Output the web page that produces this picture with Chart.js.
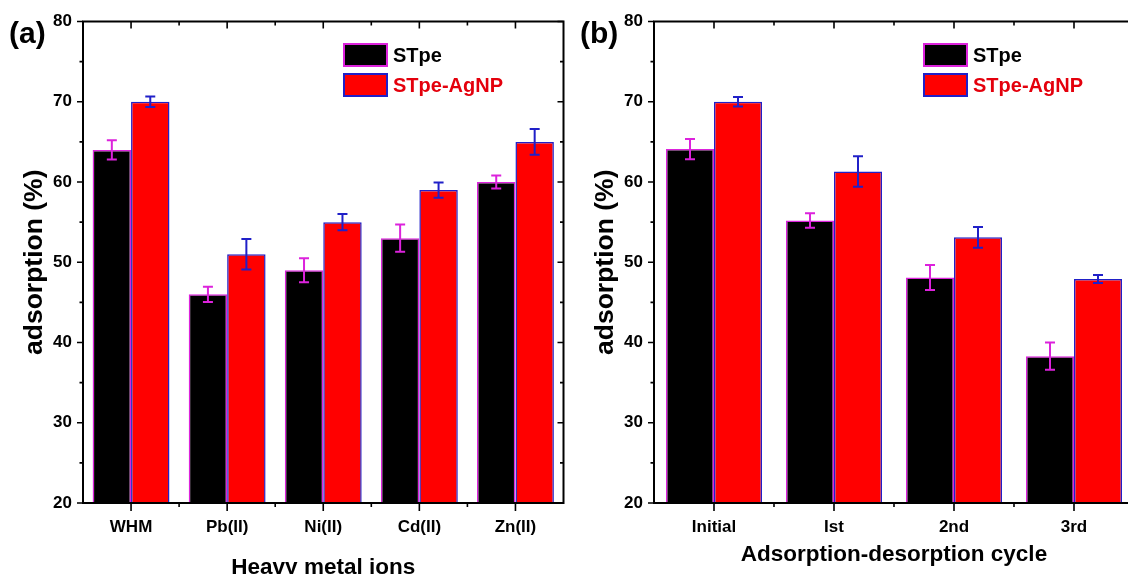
<!DOCTYPE html>
<html>
<head>
<meta charset="utf-8">
<script src="https://cdn.jsdelivr.net/npm/chart.js@4.4.1/dist/chart.umd.min.js"></script>
<style>
  html, body { margin: 0; padding: 0; background: #fff; }
  body { width: 1128px; height: 574px; overflow: hidden; position: relative; }
  .panel { position: absolute; top: 0; height: 574px; }
  #panelA { left: 0; width: 566px; }
  #panelB { left: 564px; width: 580px; }
</style>
</head>
<body>
<div class="panel" id="panelA"><canvas id="chartA" width="566" height="574"></canvas></div>
<div class="panel" id="panelB"><canvas id="chartB" width="580" height="574"></canvas></div>
<script>
// (a) heavy metal ions
const metalIons = ['WHM', 'Pb(II)', 'Ni(II)', 'Cd(II)', 'Zn(II)'];
const stpeMetal = [64, 46, 49, 53, 60];
const stpeMetalErr = [1.2, 0.95, 1.5, 1.7, 0.8];
const agnpMetal = [70, 51, 55, 59, 65];
const agnpMetalErr = [0.65, 1.9, 1.0, 0.95, 1.6];

// (b) adsorption-desorption cycles
const cycles = ['Initial', 'Ist', '2nd', '3rd'];
const stpeCycle = [64.1, 55.2, 48.1, 38.3];
const stpeCycleErr = [1.25, 0.9, 1.55, 1.7];
const agnpCycle = [70, 61.3, 53.1, 47.9];
const agnpCycleErr = [0.6, 1.9, 1.3, 0.5];

const yTicks = [20, 30, 40, 50, 60, 70, 80];
const seriesNames = ['STpe', 'STpe-AgNP'];

const FONT = '"Liberation Sans", Arial, sans-serif';
const MAGENTA = '#dc22dc';
const BLUE = '#2020c8';
const RED = '#ff0000';
const RED_TEXT = '#e4000c';

const errorBarPlugin = {
    id: 'errorBars',
    afterDatasetsDraw(chart) {
        const ctx = chart.ctx;
        const y = chart.scales.y;
        chart.data.datasets.forEach((ds, di) => {
            const meta = chart.getDatasetMeta(di);
            ctx.save();
            ctx.strokeStyle = ds.errorColor;
            ctx.lineWidth = 2;
            meta.data.forEach((bar, i) => {
                const top = y.getPixelForValue(ds.data[i] + ds.errors[i]);
                const bot = y.getPixelForValue(ds.data[i] - ds.errors[i]);
                ctx.beginPath();
                ctx.moveTo(bar.x, top); ctx.lineTo(bar.x, bot);
                ctx.moveTo(bar.x - 5, top); ctx.lineTo(bar.x + 5, top);
                ctx.moveTo(bar.x - 5, bot); ctx.lineTo(bar.x + 5, bot);
                ctx.stroke();
            });
            ctx.restore();
        });
    }
};

const framePlugin = {
    id: 'frame',
    afterDraw(chart) {
        const ctx = chart.ctx;
        const a = chart.chartArea;
        const x = chart.scales.x;
        const y = chart.scales.y;
        ctx.save();
        ctx.strokeStyle = '#000';
        ctx.lineWidth = 2;
        ctx.strokeRect(a.left, a.top, a.right - a.left, a.bottom - a.top);

        ctx.lineWidth = 1.6;
        ctx.beginPath();
        for (let v = y.min; v <= y.max; v += 5) {
            const py = y.getPixelForValue(v);
            const len = v % 10 === 0 ? 6 : 3.5;
            ctx.moveTo(a.left - len, py); ctx.lineTo(a.left, py);
            ctx.moveTo(a.right, py); ctx.lineTo(a.right - len, py);
        }
        const n = chart.data.labels.length;
        for (let i = 0; i < n; i++) {
            const px = x.getPixelForValue(i);
            ctx.moveTo(px, a.bottom); ctx.lineTo(px, a.bottom + 8);
            ctx.moveTo(px, a.top); ctx.lineTo(px, a.top + 7);
            if (i < n - 1) {
                const mx = (px + x.getPixelForValue(i + 1)) / 2;
                ctx.moveTo(mx, a.bottom); ctx.lineTo(mx, a.bottom + 4);
                ctx.moveTo(mx, a.top); ctx.lineTo(mx, a.top + 4);
            }
        }
        ctx.stroke();
        ctx.restore();
    }
};

const boxLegendPlugin = {
    id: 'boxLegend',
    afterDraw(chart, args, opts) {
        const ctx = chart.ctx;
        ctx.save();
        ctx.font = 'bold 20px ' + FONT;
        ctx.textBaseline = 'middle';
        chart.data.datasets.forEach((ds, i) => {
            const bx = opts.x;
            const by = opts.y + i * 30;
            ctx.fillStyle = ds.backgroundColor;
            ctx.fillRect(bx, by, 43, 22);
            ctx.strokeStyle = ds.borderColor;
            ctx.lineWidth = 2;
            ctx.strokeRect(bx, by, 43, 22);
            ctx.fillStyle = ds.legendTextColor;
            ctx.fillText(ds.label, bx + 49, by + 12);
        });
        ctx.restore();
    }
};

const panelLabelPlugin = {
    id: 'panelLabel',
    afterDraw(chart, args, opts) {
        const ctx = chart.ctx;
        ctx.save();
        ctx.font = 'bold 30px ' + FONT;
        ctx.fillStyle = '#000';
        ctx.textBaseline = 'middle';
        ctx.fillText(opts.text, opts.x, opts.y);
        ctx.restore();
    }
};

function makeChart(canvasId, labels, stpe, stpeErr, agnp, agnpErr, cfg) {
    const ctx = document.getElementById(canvasId).getContext('2d');
    return new Chart(ctx, {
        type: 'bar',
        data: {
            labels: labels,
            datasets: [{
                label: seriesNames[0],
                data: stpe,
                errors: stpeErr,
                backgroundColor: '#000000',
                borderColor: MAGENTA,
                errorColor: MAGENTA,
                legendTextColor: '#000000',
                borderWidth: 1.5
            }, {
                label: seriesNames[1],
                data: agnp,
                errors: agnpErr,
                backgroundColor: RED,
                borderColor: BLUE,
                errorColor: BLUE,
                legendTextColor: RED_TEXT,
                borderWidth: 1.5
            }]
        },
        options: {
            responsive: false,
            animation: false,
            devicePixelRatio: 1,
            layout: { padding: { top: 21.5, right: cfg.padRight, bottom: 0, left: 0 } },
            datasets: { bar: { categoryPercentage: 0.8, barPercentage: 1.0, borderSkipped: 'start' } },
            plugins: {
                legend: { display: false },
                tooltip: { enabled: false },
                boxLegend: { x: cfg.legendX, y: 44 },
                panelLabel: { text: cfg.panel, x: cfg.panelX, y: 35 }
            },
            scales: {
                x: {
                    grid: { display: false, drawTicks: false },
                    border: { display: false },
                    ticks: {
                        color: '#000',
                        font: { family: FONT, size: 17, weight: 'bold' },
                        padding: 14,
                        maxRotation: 0,
                        autoSkip: false
                    },
                    title: {
                        display: true,
                        text: cfg.xTitle,
                        color: '#000',
                        font: { family: FONT, size: 22.5, weight: 'bold', lineHeight: 1 },
                        padding: { top: 0, bottom: cfg.xTitlePad }
                    },
                    afterFit: s => { s.height = 71; }
                },
                y: {
                    min: yTicks[0],
                    max: yTicks[yTicks.length - 1],
                    afterBuildTicks: s => { s.ticks = yTicks.map(v => ({ value: v })); },
                    grid: { display: false, drawTicks: false },
                    border: { display: false },
                    ticks: {
                        color: '#000',
                        font: { family: FONT, size: 17, weight: 'bold' },
                        padding: 11
                    },
                    title: {
                        display: true,
                        text: 'adsorption (%)',
                        color: '#000',
                        font: { family: FONT, size: 26.5, weight: 'bold', lineHeight: 1 },
                        padding: { top: cfg.yTitlePad, bottom: 0 }
                    },
                    afterFit: s => { s.width = cfg.yAxisWidth; }
                }
            }
        },
        plugins: [errorBarPlugin, framePlugin, boxLegendPlugin, panelLabelPlugin]
    });
}

makeChart('chartA', metalIons, stpeMetal, stpeMetalErr, agnpMetal, agnpMetalErr, {
    padRight: 2.5, yAxisWidth: 83, legendX: 344, panel: '(a)', panelX: 9,
    xTitle: 'Heavy metal ions', xTitlePad: -5, yTitlePad: 21
});

makeChart('chartB', cycles, stpeCycle, stpeCycleErr, agnpCycle, agnpCycleErr, {
    padRight: 10, yAxisWidth: 90, legendX: 360, panel: '(b)', panelX: 16,
    xTitle: 'Adsorption-desorption cycle', xTitlePad: 8, yTitlePad: 28
});
</script>
</body>
</html>
